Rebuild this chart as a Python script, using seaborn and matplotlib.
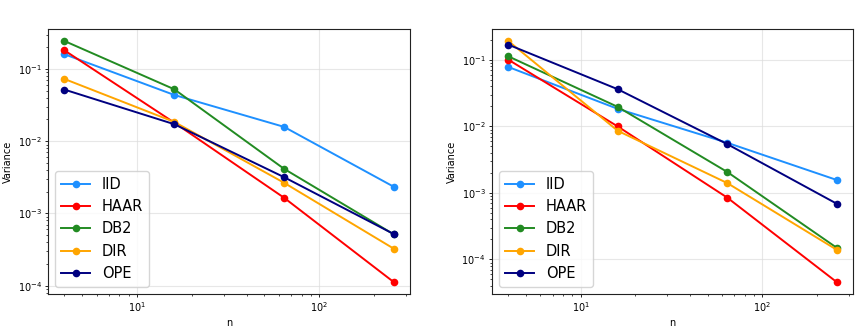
"""
Variance vs n for the five sampling schemes (two settings)
"""
import pandas as pd
import matplotlib
matplotlib.use("Agg")
import matplotlib.pyplot as plt
import seaborn as sns

# Data
n_values = [4, 16, 64, 256]
methods = ["IID", "HAAR", "DB2", "DIR", "OPE"]
colors = ["dodgerblue", "red", "forestgreen", "orange", "navy"]

left_iid = [0.160, 0.0437, 0.0158, 0.00234]
left_haar = [0.181, 0.0181, 0.00165, 0.000112]
left_db2 = [0.244, 0.0524, 0.00415, 0.000513]
left_dir = [0.0727, 0.0185, 0.00266, 0.000325]
left_ope = [0.0518, 0.0172, 0.00318, 0.000518]

right_iid = [0.0785, 0.0184, 0.00569, 0.00157]
right_haar = [0.101, 0.0100, 0.000851, 0.0000457]
right_db2 = [0.1135, 0.0197, 0.00207, 0.000150]
right_dir = [0.193, 0.0086, 0.00141, 0.000140]
right_ope = [0.170, 0.0363, 0.00543, 0.00069]


def to_frame(series):
    rows = []
    for name, vals in zip(methods, series):
        for n, v in zip(n_values, vals):
            rows.append({"n": n, "Variance": v, "method": name})
    return pd.DataFrame(rows)


left_df = to_frame([left_iid, left_haar, left_db2, left_dir, left_ope])
right_df = to_frame([right_iid, right_haar, right_db2, right_dir, right_ope])

fig = plt.figure(figsize=(8.6, 3.29), dpi=100)
ax1 = fig.add_axes([0.0558, 0.106, 0.4212, 0.806])
ax2 = fig.add_axes([0.572, 0.106, 0.420, 0.806])

palette = dict(zip(methods, colors))
for ax, df in [(ax1, left_df), (ax2, right_df)]:
    sns.lineplot(data=df, x="n", y="Variance", hue="method", palette=palette,
                 hue_order=methods, marker="o", markersize=5.5, markeredgewidth=0,
                 linewidth=1.4, ax=ax)
    ax.set_xscale("log")
    ax.set_yscale("log")
    ax.grid(True, which="major", color="#dddddd", linewidth=0.8, alpha=0.7)
    ax.set_axisbelow(True)
    ax.tick_params(which="major", labelsize=7, pad=2, length=2.5, width=0.6)
    ax.tick_params(which="minor", length=1.5, width=0.5)
    ax.set_xlabel("n", fontsize=7, labelpad=3)
    ax.set_ylabel("Variance", fontsize=7, labelpad=3)
    for s in ax.spines.values():
        s.set_color("#222222")
    ax.legend(loc="lower left", fontsize=10.5, title=None, handlelength=2.0)

fig.savefig("out.png", dpi=100)
